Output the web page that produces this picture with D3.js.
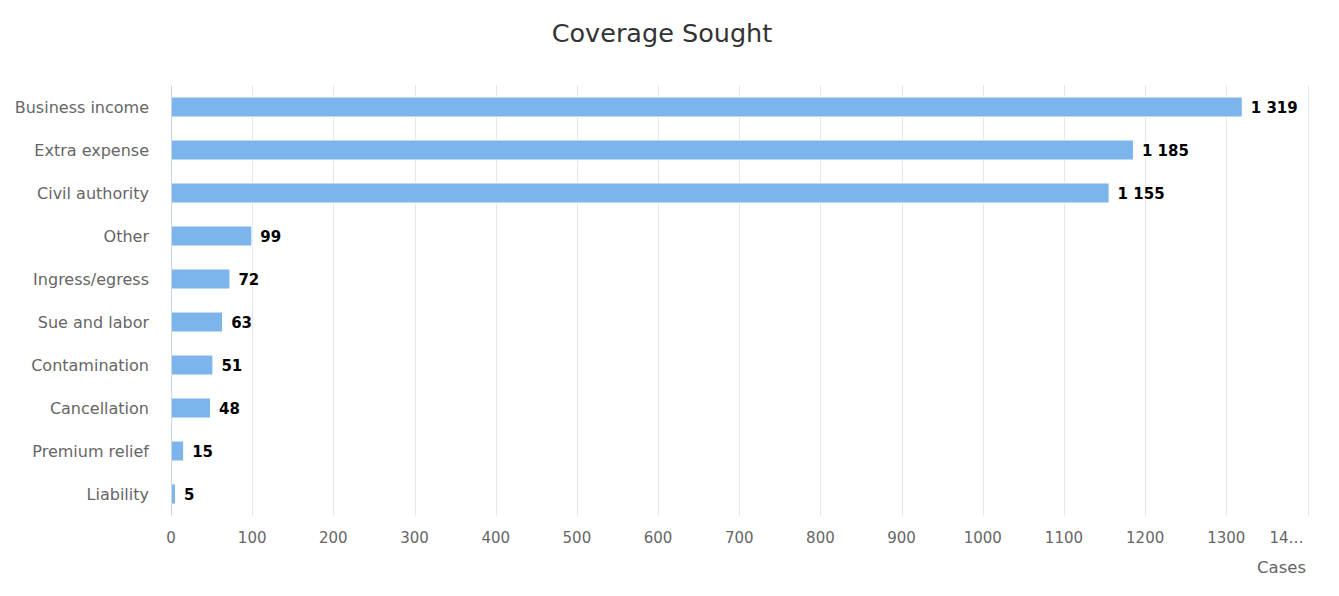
<!DOCTYPE html>
<html><head><meta charset="utf-8">
<script src="https://cdn.jsdelivr.net/npm/d3@7"></script>
<style>body{margin:0;background:#fff}svg{display:block;font-family:"DejaVu Sans",Verdana,sans-serif}</style>
</head><body><svg id="c" width="1339" height="596"></svg>
<script>
const categories = ["Business income","Extra expense","Civil authority","Other","Ingress/egress","Sue and labor","Contamination","Cancellation","Premium relief","Liability"];
const values = [1319,1185,1155,99,72,63,51,48,15,5];
const tickValues = [0,100,200,300,400,500,600,700,800,900,1000,1100,1200,1300,1400];
const tickLabels = ["0","100","200","300","400","500","600","700","800","900","1000","1100","1200","1300","14…"];
const title = "Coverage Sought";
const axisTitle = "Cases";

const svg = d3.select("#c");
const L = 171, R = 1307.5, T = 85.5, B = 515.5;
const x = d3.scaleLinear().domain([0,1400]).range([L,R]);
const y = d3.scaleBand().domain(categories).range([T,B]);
const fmt = v => d3.format(",")(v).replace(/,/g," ");

svg.append("text").attr("x",662).attr("y",42).attr("text-anchor","middle")
  .attr("font-size",25.5).attr("fill","#333").text(title);

// grid
svg.append("g").selectAll("line").data(tickValues.slice(1)).join("line")
  .attr("x1",d=>Math.round(x(d))+0.5).attr("x2",d=>Math.round(x(d))+0.5)
  .attr("y1",T).attr("y2",B).attr("stroke","#e6e6e6").attr("stroke-width",1);

// bars
const bh = 20;
svg.append("g").selectAll("rect").data(values).join("rect")
  .attr("x",L+0.5).attr("y",(d,i)=>y(categories[i])+y.bandwidth()/2-bh/2)
  .attr("width",d=>x(d)-L).attr("height",bh)
  .attr("fill","#7cb5ec").attr("stroke","#fff").attr("stroke-width",1);

// axis line
svg.append("line").attr("x1",L+0.5).attr("x2",L+0.5).attr("y1",T).attr("y2",B)
  .attr("stroke","#ccd6eb").attr("stroke-width",1);

// category labels
svg.append("g").selectAll("text").data(categories).join("text")
  .attr("x",149).attr("y",d=>y(d)+y.bandwidth()/2+5.5).attr("text-anchor","end")
  .attr("font-size",16).attr("fill","#666").text(d=>d);

// x tick labels
svg.append("g").selectAll("text").data(tickValues).join("text")
  .attr("x",(d,i)=> i===tickValues.length-1 ? x(d)-4 : x(d)).attr("y",543)
  .attr("text-anchor",(d,i)=> i===tickValues.length-1 ? "end" : "middle")
  .attr("font-size",15).attr("fill","#666").text((d,i)=>tickLabels[i]);

svg.append("text").attr("x",1306).attr("y",573).attr("text-anchor","end")
  .attr("font-size",16.5).attr("fill","#666").text(axisTitle);

// data labels
svg.append("g").selectAll("text").data(values).join("text")
  .attr("x",d=>x(d)+9).attr("y",(d,i)=>y(categories[i])+y.bandwidth()/2+6)
  .attr("font-size",15).attr("font-weight","bold").attr("fill","#000")
  .attr("stroke","#fff").attr("stroke-width",2).attr("paint-order","stroke")
  .text(d=>fmt(d));
</script></body></html>
